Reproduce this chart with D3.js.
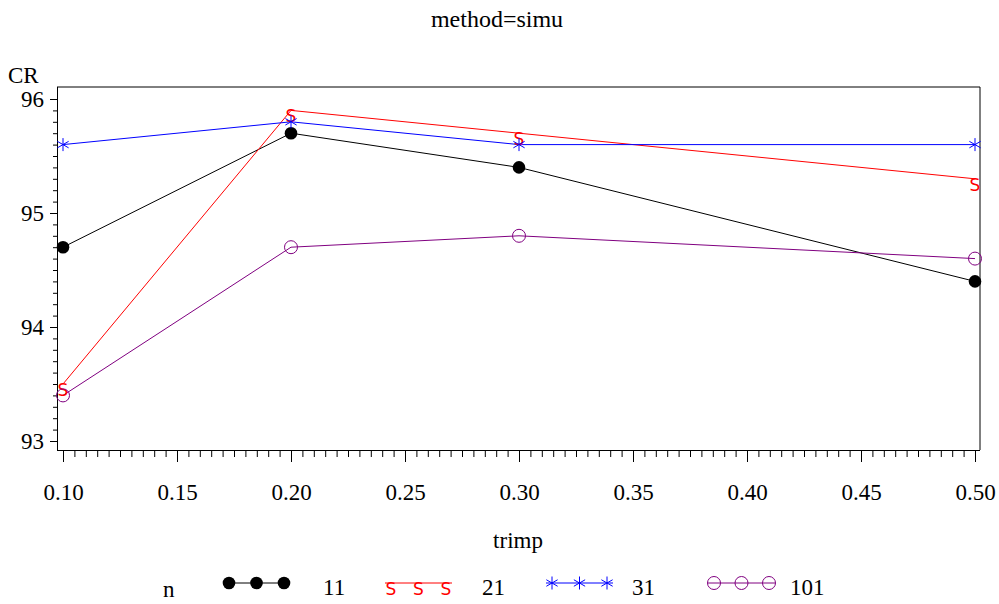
<!DOCTYPE html>
<html>
<head>
<meta charset="utf-8">
<script src="https://cdn.jsdelivr.net/npm/d3@7"></script>
<style>
  html, body { margin: 0; padding: 0; background: #fff; }
  svg text { font-family: "Liberation Serif", "Times New Roman", serif; fill: #000; }
</style>
</head>
<body>
<svg id="chart" width="999" height="604"></svg>
<script>
// Coverage rate (CR) by trimming proportion, one series per sample size n
const trimp = [0.10, 0.20, 0.30, 0.50];
const cr11  = [94.7, 95.7, 95.4, 94.4];
const cr21  = [93.5, 95.9, 95.7, 95.3];
const cr31  = [95.6, 95.8, 95.6, 95.6];
const cr101 = [93.4, 94.7, 94.8, 94.6];
const nLabels = ["11", "21", "31", "101"];
const xTicks = [0.10, 0.15, 0.20, 0.25, 0.30, 0.35, 0.40, 0.45, 0.50];
const yTicks = [93, 94, 95, 96];

const series = [
  { n: nLabels[0], values: cr11,  color: "#000000", symbol: "dot" },
  { n: nLabels[1], values: cr21,  color: "#ff0000", symbol: "S" },
  { n: nLabels[2], values: cr31,  color: "#0000ff", symbol: "star" },
  { n: nLabels[3], values: cr101, color: "#800080", symbol: "circle" }
];

const svg = d3.select("#chart");
const frame = { left: 57, right: 980, top: 87, bottom: 450 };

const x = d3.scaleLinear().domain([0.10, 0.50]).range([63, 975]);
const y = d3.scaleLinear().domain([93, 96]).range([441, 99]);

// title
svg.append("text").attr("x", 497).attr("y", 27).attr("text-anchor", "middle")
  .style("font-size", "24px").text("method=simu");

// frame lines (top and right)
svg.append("path")
  .attr("d", `M${frame.left},${frame.top}H${frame.right}V${frame.bottom}`)
  .attr("fill", "none").attr("stroke", "#000").attr("stroke-width", 1);

// x axis with major and minor ticks
const xMinor = d3.range(0, 81).map(i => 0.10 + i * 0.005)
  .filter(v => !xTicks.some(t => Math.abs(t - v) < 1e-9));
const xAxisG = svg.append("g").attr("transform", `translate(0,${frame.bottom})`);
xAxisG.append("g")
  .call(d3.axisBottom(x).tickValues(xMinor).tickSize(7).tickFormat(""))
  .call(g => g.select(".domain").remove());
xAxisG.append("g")
  .call(d3.axisBottom(x).tickValues(xTicks).tickSize(12).tickPadding(22).tickFormat(d3.format(".2f")))
  .call(g => g.select(".domain").remove())
  .call(g => g.selectAll("text").style("font-size", "23px"));
xAxisG.append("line").attr("x1", frame.left).attr("x2", frame.right)
  .attr("y1", 0.5).attr("y2", 0.5).attr("stroke", "#000");
xAxisG.selectAll(".tick line").attr("stroke", "#000");

svg.append("text").attr("x", 518).attr("y", 548).attr("text-anchor", "middle")
  .style("font-size", "23px").text("trimp");

// y axis with major and minor ticks
const yMinor = d3.range(0, 31).map(i => 93 + i * 0.1)
  .filter(v => !yTicks.some(t => Math.abs(t - v) < 1e-9));
const yAxisG = svg.append("g").attr("transform", `translate(${frame.left},0)`);
yAxisG.append("g")
  .call(d3.axisLeft(y).tickValues(yMinor).tickSize(4).tickFormat(""))
  .call(g => g.select(".domain").remove());
yAxisG.append("g")
  .call(d3.axisLeft(y).tickValues(yTicks).tickSize(7).tickPadding(6).tickFormat(d3.format("d")))
  .call(g => g.select(".domain").remove())
  .call(g => g.selectAll("text").style("font-size", "23px"));
yAxisG.append("line").attr("x1", 0.5).attr("x2", 0.5)
  .attr("y1", frame.top).attr("y2", frame.bottom).attr("stroke", "#000");
yAxisG.selectAll(".tick line").attr("stroke", "#000");

svg.append("text").attr("x", 8).attr("y", 83).style("font-size", "23px").text("CR");

// marker drawing
function starPath(r) {
  const a = Math.PI / 3;
  let p = `M0,${-r}L0,${r}`;
  p += `M${-r * Math.sin(a)},${-r * Math.cos(a)}L${r * Math.sin(a)},${r * Math.cos(a)}`;
  p += `M${-r * Math.sin(a)},${r * Math.cos(a)}L${r * Math.sin(a)},${-r * Math.cos(a)}`;
  return p;
}
function drawMarker(g, sym, color, cx, cy) {
  if (sym === "dot") {
    g.append("circle").attr("cx", cx).attr("cy", cy).attr("r", 6.3).attr("fill", color);
  } else if (sym === "circle") {
    g.append("circle").attr("cx", cx).attr("cy", cy).attr("r", 6.5)
      .attr("fill", "none").attr("stroke", color).attr("stroke-width", 1);
  } else if (sym === "star") {
    g.append("path").attr("transform", `translate(${cx},${cy})`).attr("d", starPath(6.5))
      .attr("fill", "none").attr("stroke", color).attr("stroke-width", 1);
  } else if (sym === "S") {
    // the letter hangs just below its point
    g.append("text").attr("x", cx).attr("y", cy + 12).attr("text-anchor", "middle")
      .style("font-family", "'DejaVu Sans', sans-serif").style("font-size", "17px")
      .style("fill", color).text("S");
  }
}

const line = d3.line().x((d, i) => x(trimp[i])).y(d => y(d));
const plot = svg.append("g");
series.forEach(s => {
  plot.append("path").datum(s.values).attr("d", line)
    .attr("fill", "none").attr("stroke", s.color).attr("stroke-width", 1);
});
series.forEach(s => {
  s.values.forEach((v, i) => drawMarker(plot, s.symbol, s.color, x(trimp[i]), y(v)));
});

// legend
const legend = svg.append("g");
legend.append("text").attr("x", 163).attr("y", 597).style("font-size", "23px").text("n");
const legendStarts = [223, 385, 546, 708];
const legendText = [323, 482, 632, 790];
const ly = 583;
series.forEach((s, k) => {
  const x0 = legendStarts[k], x1 = x0 + 67;
  legend.append("line").attr("x1", x0).attr("x2", x1).attr("y1", ly).attr("y2", ly)
    .attr("stroke", s.color).attr("stroke-width", 1);
  [x0 + 6, x0 + 33.5, x0 + 61].forEach(mx => {
    drawMarker(legend, s.symbol, s.color, mx, ly);
  });
  legend.append("text").attr("x", legendText[k]).attr("y", 595)
    .style("font-size", "23px").text(s.n);
});
</script>
</body>
</html>
